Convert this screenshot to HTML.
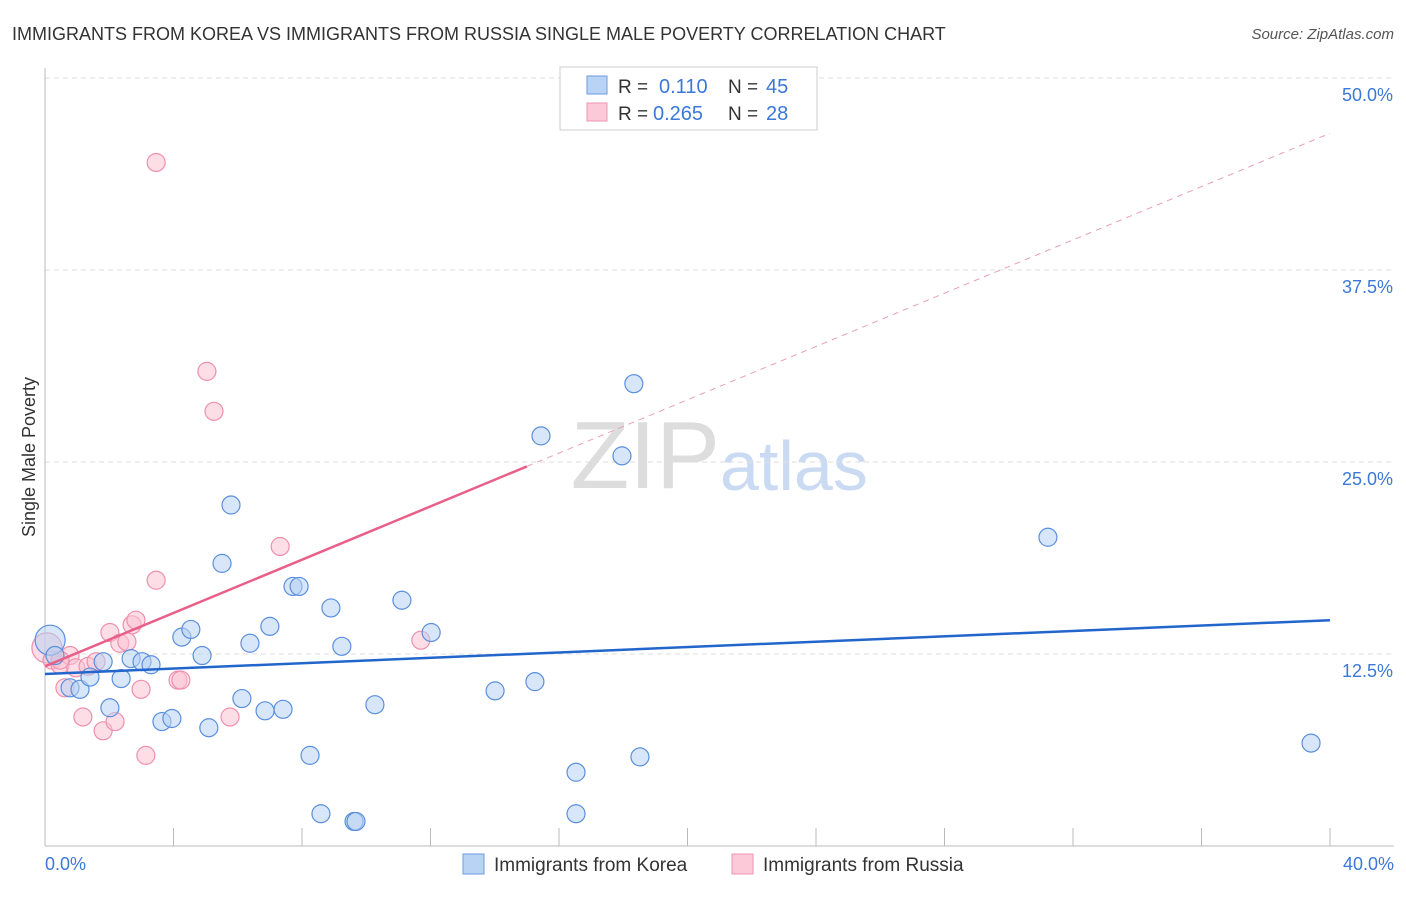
<!DOCTYPE html>
<html><head><meta charset="utf-8"><style>
body{margin:0;background:#fff;font-family:"Liberation Sans",sans-serif}
svg text{font-family:"Liberation Sans",sans-serif}
</style></head><body>
<svg id="c" width="1406" height="892">
<text x="12" y="40" font-size="18" fill="#333">IMMIGRANTS FROM KOREA VS IMMIGRANTS FROM RUSSIA SINGLE MALE POVERTY CORRELATION CHART</text>
<text x="1394" y="39" font-size="15" fill="#555" text-anchor="end" font-style="italic">Source: ZipAtlas.com</text>
<text x="35" y="457" font-size="18" fill="#333" text-anchor="middle" transform="rotate(-90 35 457)">Single Male Poverty</text>
<text x="720" y="488" font-size="96" fill="#ddd" text-anchor="end" font-family="Liberation Serif">ZIP</text>
<text x="720" y="490" font-size="70" fill="#c9daf2">atlas</text>
<g id="grid"></g><g id="marks"></g>
<g>
<rect x="560" y="67" width="257" height="63" fill="#fff" stroke="#ccc"/>
<rect x="587" y="76" width="20" height="18" fill="#b9d3f5" stroke="#6d9be0"/>
<rect x="587" y="103" width="20" height="18" fill="#fcc9d8" stroke="#ee94b0"/>
<text x="618" y="93" font-size="19" fill="#333">R =</text><text x="659" y="93" font-size="20" fill="#3b78d8">0.110</text>
<text x="728" y="93" font-size="19" fill="#333">N =</text><text x="766" y="93" font-size="20" fill="#3b78d8">45</text>
<text x="618" y="120" font-size="19" fill="#333">R =</text><text x="653" y="120" font-size="20" fill="#3b78d8">0.265</text>
<text x="728" y="120" font-size="19" fill="#333">N =</text><text x="766" y="120" font-size="20" fill="#3b78d8">28</text>
</g>
<g>
<rect x="463" y="854" width="21" height="20" fill="#b9d3f5" stroke="#6d9be0"/>
<text x="494" y="871" font-size="19" fill="#333">Immigrants from Korea</text>
<rect x="732" y="854" width="21" height="20" fill="#fcc9d8" stroke="#ee94b0"/>
<text x="763" y="871" font-size="19" fill="#333">Immigrants from Russia</text>
</g>
</svg>
<script>
const yTicks=[12.5,25,37.5,50];
const yTickLabels=["12.5%","25.0%","37.5%","50.0%"];
const xTickLabels=["0.0%","40.0%"];
const koreaX=[0.16,0.31,0.78,1.09,1.40,1.81,2.02,2.37,2.68,3.02,3.30,3.64,3.95,4.26,4.54,4.89,5.10,5.51,5.79,6.13,6.38,6.85,7.00,7.41,7.72,7.91,8.25,8.59,8.90,9.24,9.62,9.68,10.27,11.11,12.02,14.01,15.25,15.44,16.53,16.53,17.96,18.33,18.52,31.22,39.41];
const koreaY=[13.4,12.4,10.3,10.2,11.0,12.0,9.0,10.9,12.2,12.0,11.8,8.1,8.3,13.6,14.1,12.4,7.7,18.4,22.2,9.6,13.2,8.8,14.3,8.9,16.9,16.9,5.9,2.1,15.5,13.0,1.6,1.6,9.2,16.0,13.9,10.1,10.7,26.7,4.8,2.1,25.4,30.1,5.8,20.1,6.7];
const russiaX=[0.06,0.22,0.47,0.62,0.78,0.96,1.18,1.34,1.59,1.81,2.02,2.18,2.33,2.55,2.71,2.83,2.99,3.14,3.46,3.46,4.14,4.23,5.04,5.26,5.76,7.32,11.70,0.47];
const russiaY=[12.9,12.1,11.8,10.3,12.4,11.6,8.4,11.7,12.0,7.5,13.9,8.1,13.2,13.3,14.4,14.7,10.2,5.9,17.3,44.5,10.8,10.8,30.9,28.3,8.4,19.5,13.4,12.1];
const koreaTrend=[11.2,14.7];
const russiaTrend=[11.7,46.4];
const NS="http://www.w3.org/2000/svg";
const X0=45,X1=1330,Y0=846;
const sx=v=>X0+(v/40)*(X1-X0);
const sy=v=>Y0-v*15.36;
function mk(t,a,p){const e=document.createElementNS(NS,t);for(const k in a)e.setAttribute(k,a[k]);p.appendChild(e);return e;}
const g=document.getElementById('grid'),m=document.getElementById('marks');
yTicks.forEach((t,i)=>{
 const l=mk('line',{x1:X0,x2:1394,y1:sy(t),y2:sy(t),stroke:'#ddd','stroke-dasharray':'5,4'},g);
 
 
 const tx=mk('text',{x:1393,y:sy(t)+23,'font-size':18,fill:'#3b78d8','text-anchor':'end'},g);
 tx.textContent=yTickLabels[i];
 
 
});
const ax=mk('line',{x1:X0,x2:X0,y1:68,y2:Y0,stroke:'#bbb'},g);


const bx=mk('line',{x1:X0,x2:1394,y1:Y0,y2:Y0,stroke:'#bbb'},g);


for(let i=0;i<=10;i++){const t=mk('line',{x1:sx(i*4),x2:sx(i*4),y1:828,y2:Y0,stroke:'#bbb'},g);
 
 }
[[0,'start',45],[40,'end',1394]].forEach((d,i)=>{const t=mk('text',{x:d[2],y:870,'font-size':18,fill:'#3b78d8','text-anchor':d[1]},g);t.textContent=xTickLabels[i];
 
 });
function pts(xs,ys,fill,stroke,name,bigIdx){
 xs.forEach((x,i)=>{const c=mk('circle',{cx:sx(x),cy:sy(ys[i]),r:i===bigIdx?15:9,fill:fill,'fill-opacity':0.55,stroke:stroke,'stroke-width':1.2},m);
 
 });
}
pts(russiaX,russiaY,'#fbc2d3','#ef8fae','russia-point',0);
pts(koreaX,koreaY,'#b7d1f3','#5b8fdc','korea-point',0);
const kl=mk('line',{x1:sx(0),y1:sy(koreaTrend[0]),x2:sx(40),y2:sy(koreaTrend[1]),stroke:'#2266cc','stroke-width':2.5},m);


const rs=(russiaTrend[1]-russiaTrend[0])/40, xe=15;
const rl=mk('line',{x1:sx(0),y1:sy(russiaTrend[0]),x2:sx(xe),y2:sy(russiaTrend[0]+rs*xe),stroke:'#e8608a','stroke-width':2.5},m);


const rd=mk('line',{x1:sx(xe),y1:sy(russiaTrend[0]+rs*xe),x2:sx(40),y2:sy(russiaTrend[1]),stroke:'#e8a0b6','stroke-width':1,'stroke-dasharray':'6,5'},m);


</script>
</body></html>
